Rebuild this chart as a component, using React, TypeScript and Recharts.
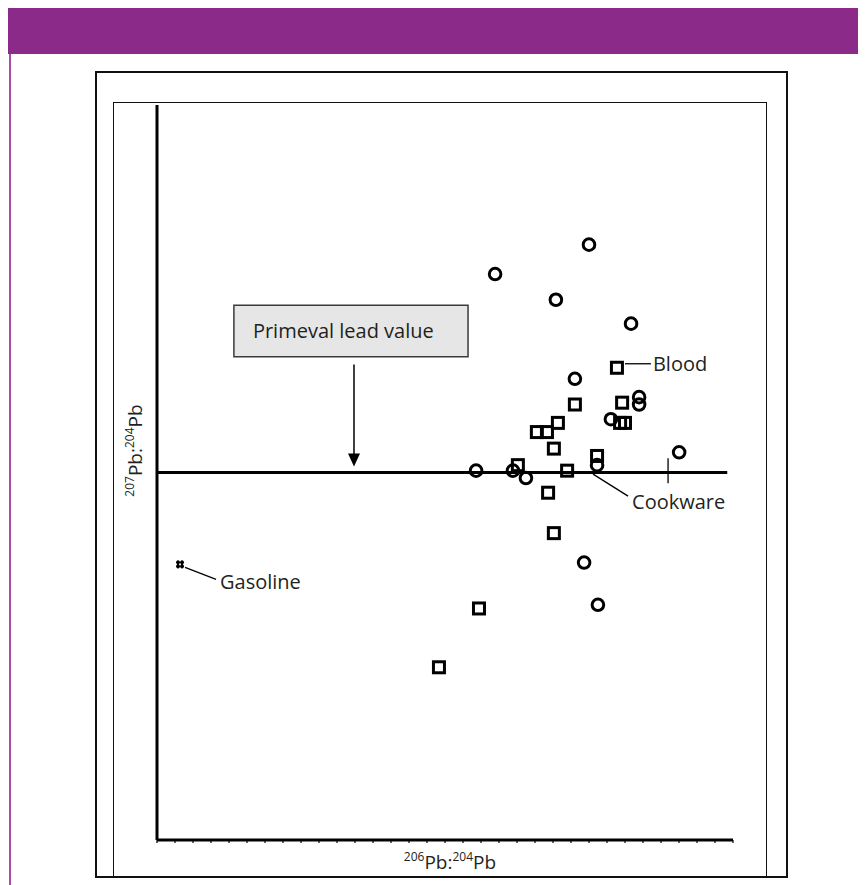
import React from "react"
import {
  ScatterChart,
  Scatter,
  XAxis,
  YAxis,
  ReferenceLine,
  ReferenceArea,
  ReferenceDot,
} from "recharts"

// 206Pb:204Pb (x) vs 207Pb:204Pb (y)
const circleX = [18.5, 18.174, 18.385, 18.646, 18.451, 18.674, 18.674, 18.576, 18.813, 18.108, 18.236, 18.281, 18.528, 18.483, 18.531]
const circleY = [15.724, 15.708, 15.694, 15.681, 15.651, 15.641, 15.637, 15.629, 15.611, 15.601, 15.601, 15.597, 15.604, 15.551, 15.528]

const squareX = [18.597, 18.451, 18.615, 18.392, 18.354, 18.319, 18.378, 18.608, 18.625, 18.528, 18.253, 18.424, 18.358, 18.378, 18.118, 17.979]
const squareY = [15.657, 15.637, 15.638, 15.627, 15.622, 15.622, 15.613, 15.627, 15.627, 15.609, 15.604, 15.601, 15.589, 15.567, 15.526, 15.494]

const gasolineX = [17.08]
const gasolineY = [15.55]

const primevalValue = 15.6
const primevalBox = { x1: 17.267, x2: 18.08, y1: 15.663, y2: 15.691 }
const arrowX = 17.684

const xDomain: [number, number] = [17, 19]
const yDomain: [number, number] = [15.4, 15.8]
const xTicks = Array.from({ length: 33 }, (_, i) => 17 + i / 16)

const circles = circleX.map((x, i) => ({ x, y: circleY[i] }))
const squares = squareX.map((x, i) => ({ x, y: squareY[i] }))
const gasoline = gasolineX.map((x, i) => ({ x, y: gasolineY[i] }))

const FONT = "'Open Sans', sans-serif"
const PURPLE = "#8c2a8a"

const CircleMark = (p: any) => (
  <circle cx={p.cx} cy={p.cy} r={5.8} fill="none" stroke="#000" strokeWidth={3} />
)

const SquareMark = (p: any) => (
  <rect x={p.cx - 5.5} y={p.cy - 5.5} width={11} height={11} fill="none" stroke="#000" strokeWidth={3} />
)

const GasMark = (p: any) => (
  <g stroke="#000" strokeWidth={2.2}>
    <line x1={p.cx - 4} y1={p.cy - 2} x2={p.cx + 4} y2={p.cy - 2} />
    <line x1={p.cx - 4} y1={p.cy + 2} x2={p.cx + 4} y2={p.cy + 2} />
    <line x1={p.cx - 2} y1={p.cy - 4} x2={p.cx - 2} y2={p.cy + 4} />
    <line x1={p.cx + 2} y1={p.cy - 4} x2={p.cx + 2} y2={p.cy + 4} />
  </g>
)

const labelText = { fontFamily: FONT, fontSize: 20, fill: "#231f20" }

const BloodLabel = (p: any) => (
  <g>
    <line x1={p.cx + 8} y1={p.cy - 4} x2={p.cx + 34} y2={p.cy - 4} stroke="#000" strokeWidth={1.3} />
    <text x={p.cx + 36} y={p.cy - 4} dominantBaseline="central" style={labelText}>Blood</text>
  </g>
)

const CookwareLabel = (p: any) => (
  <g>
    <line x1={p.cx - 4} y1={p.cy + 9} x2={p.cx + 31} y2={p.cy + 31} stroke="#000" strokeWidth={1.3} />
    <line x1={p.cx + 71} y1={p.cy - 7} x2={p.cx + 71} y2={p.cy + 18} stroke="#000" strokeWidth={1.3} />
    <text x={p.cx + 35} y={p.cy + 36} dominantBaseline="central" style={labelText}>Cookware</text>
  </g>
)

const GasolineLabel = (p: any) => (
  <g>
    <line x1={p.cx + 5} y1={p.cy + 3} x2={p.cx + 36} y2={p.cy + 15} stroke="#000" strokeWidth={1.3} />
    <text x={p.cx + 40} y={p.cy + 17} dominantBaseline="central" style={labelText}>Gasoline</text>
  </g>
)

const Arrow = (p: any) => (
  <g>
    <line x1={p.cx} y1={p.cy - 108} x2={p.cx} y2={p.cy - 18} stroke="#000" strokeWidth={1.5} />
    <path d={`M${p.cx - 6},${p.cy - 19} L${p.cx + 6},${p.cy - 19} L${p.cx},${p.cy - 6} Z`} fill="#000" />
  </g>
)

const IsoLabel = ({ a, b, x, y, rotate }: { a: string; b: string; x: number; y: number; rotate?: boolean }) => (
  <text
    x={x}
    y={y}
    textAnchor="middle"
    dominantBaseline="central"
    transform={rotate ? `rotate(-90 ${x} ${y})` : undefined}
    style={{ fontFamily: FONT, fill: "#231f20" }}
  >
    <tspan fontSize={12} dy={-6}>{a}</tspan>
    <tspan fontSize={19} dy={6}>Pb:</tspan>
    <tspan fontSize={12} dy={-6}>{b}</tspan>
    <tspan fontSize={19} dy={6}>Pb</tspan>
  </text>
)

const XTitle = (props: any) => {
  const vb = props.viewBox || { x: 149, y: 832, width: 576, height: 30 }
  return <IsoLabel a="206" b="204" x={vb.x + vb.width / 2 + 5} y={vb.y + 22} />
}

const YTitle = (props: any) => {
  const vb = props.viewBox || { x: 119, y: 97, width: 30, height: 735 }
  return <IsoLabel a="207" b="204" x={vb.x + 8} y={vb.y + vb.height / 2 - 22} rotate />
}

export default function App() {
  return (
    <div style={{ position: "relative", width: 858, height: 877, fontFamily: FONT }}>
      <div style={{ position: "absolute", left: 0, top: 0, width: 858, height: 46, background: PURPLE }} />
      <div style={{ position: "absolute", left: 1, top: 46, width: 1.5, height: 831, background: "#a84ca6" }} />
      <div
        style={{
          position: "absolute", left: 87, top: 63, width: 693, height: 807,
          border: "2.5px solid #111", boxSizing: "border-box",
        }}
      />
      <div
        style={{
          position: "absolute", left: 105, top: 94, width: 654, height: 774,
          borderTop: "1.5px solid #111", borderLeft: "1.5px solid #111", borderRight: "1.5px solid #111",
          boxSizing: "border-box",
        }}
      />
      <div style={{ position: "absolute", left: 0, top: 0 }}>
        <ScatterChart width={858} height={877} margin={{ top: 97, right: 133, bottom: 15, left: 119 }}>
          <XAxis
            type="number"
            dataKey="x"
            domain={xDomain}
            ticks={xTicks}
            tickFormatter={() => ""}
            allowDataOverflow
            height={30}
            tickSize={3}
            axisLine={{ stroke: "#000", strokeWidth: 3 }}
            tickLine={{ stroke: "#000", strokeWidth: 1.2 }}
            label={XTitle}
          />
          <YAxis
            type="number"
            dataKey="y"
            domain={yDomain}
            allowDataOverflow
            width={30}
            tick={false}
            tickLine={false}
            axisLine={{ stroke: "#000", strokeWidth: 3 }}
            label={YTitle}
          />
          <ReferenceArea
            x1={primevalBox.x1}
            x2={primevalBox.x2}
            y1={primevalBox.y1}
            y2={primevalBox.y2}
            fill="#e6e6e6"
            fillOpacity={1}
            stroke="#3a3a3a"
            strokeWidth={1.5}
            label={{ value: "Primeval lead value", position: "insideLeft", offset: 19, style: labelText }}
          />
          <ReferenceLine
            segment={[{ x: 17, y: primevalValue }, { x: 18.98, y: primevalValue }]}
            stroke="#000"
            strokeWidth={3}
          />
          <ReferenceDot x={arrowX} y={primevalValue} shape={Arrow} />
          <Scatter data={circles} shape={CircleMark} isAnimationActive={false} />
          <Scatter data={squares} shape={SquareMark} isAnimationActive={false} />
          <Scatter data={gasoline} shape={GasMark} isAnimationActive={false} />
          <ReferenceDot x={squareX[0]} y={squareY[0]} shape={BloodLabel} />
          <ReferenceDot x={circleX[12]} y={circleY[12]} shape={CookwareLabel} />
          <ReferenceDot x={gasolineX[0]} y={gasolineY[0]} shape={GasolineLabel} />
        </ScatterChart>
      </div>
    </div>
  )
}
